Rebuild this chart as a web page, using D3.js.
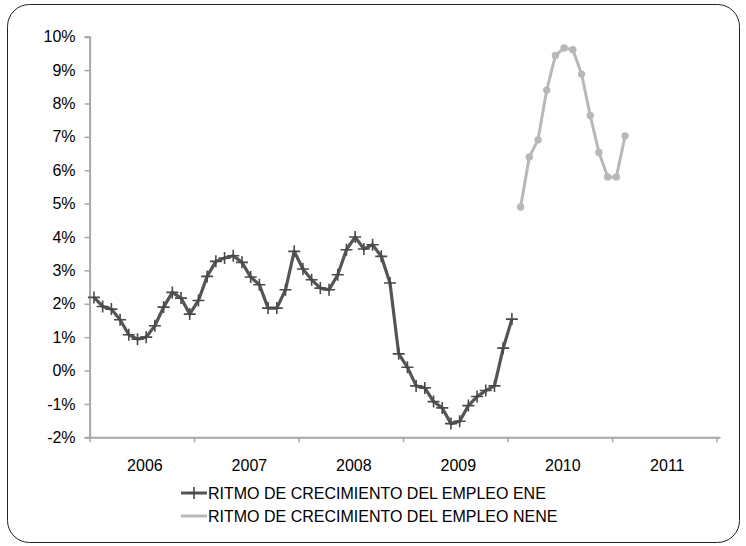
<!DOCTYPE html>
<html>
<head>
<meta charset="utf-8">
<script src="https://cdn.jsdelivr.net/npm/d3@7/dist/d3.min.js"></script>
<style>
  html, body { margin: 0; padding: 0; background: #fff; }
  svg { display: block; }
  text { font-family: "Liberation Sans", Arial, sans-serif; fill: #000; }
</style>
</head>
<body>
<svg id="chart" width="746" height="546"></svg>
<script>
// ---- data ----
const years = ["2006", "2007", "2008", "2009", "2010", "2011"];
const yTicks = [-2, -1, 0, 1, 2, 3, 4, 5, 6, 7, 8, 9, 10];
const seriesNames = ["RITMO DE CRECIMIENTO DEL EMPLEO ENE", "RITMO DE CRECIMIENTO DEL EMPLEO NENE"];
// monthly growth rates (%), ENE: Jan 2006 onwards
const eneStart = 0;
const eneValues = [2.19, 1.92, 1.84, 1.52, 1.07, 0.94, 1.00, 1.34, 1.90, 2.34, 2.17, 1.69,
                   2.10, 2.82, 3.27, 3.37, 3.44, 3.24, 2.80, 2.57, 1.87, 1.87, 2.42, 3.57,
                   3.04, 2.72, 2.47, 2.42, 2.87, 3.62, 4.00, 3.64, 3.77, 3.42, 2.62, 0.50,
                   0.10, -0.46, -0.52, -0.93, -1.12, -1.59, -1.52, -1.05, -0.78, -0.60, -0.46, 0.67,
                   1.54];
// NENE: starts at month index 49
const neneStart = 49;
const neneValues = [4.90, 6.40, 6.91, 8.40, 9.44, 9.66, 9.61, 8.88, 7.64, 6.53, 5.80, 5.80, 7.03];

// ---- layout ----
const svg = d3.select("#chart");
const plotLeft = 89.6, plotRight = 720, plotTop = 36.7, plotBottom = 437.3;

svg.append("rect")
  .attr("x", 7.5).attr("y", 4.5).attr("width", 732).attr("height", 538)
  .attr("rx", 22).attr("ry", 22)
  .attr("fill", "#fff").attr("stroke", "#222").attr("stroke-width", 1);

const x = d3.scaleLinear().domain([-0.5, 71.9]).range([plotLeft, plotRight]);
const y = d3.scaleLinear().domain([-2, 10]).range([plotBottom, plotTop]);

const axisColor = "#a6a6a6";

// y axis
const yAxis = svg.append("g").attr("transform", `translate(${plotLeft},0)`)
  .call(d3.axisLeft(y).tickValues(yTicks).tickFormat(d => d + "%").tickSize(5).tickPadding(9));
yAxis.select(".domain").attr("stroke", axisColor).attr("stroke-width", 2);
yAxis.selectAll(".tick line").attr("stroke", axisColor).attr("stroke-width", 1.5);
yAxis.selectAll(".tick text").attr("font-size", 16).attr("fill", "#000")
  .attr("font-family", "Liberation Sans, Arial, sans-serif");

// x axis (year boundaries)
const yearTicks = d3.range(years.length + 1).map(i => -0.5 + 12 * i);
const xAxis = svg.append("g").attr("transform", `translate(0,${plotBottom})`)
  .call(d3.axisBottom(x).tickValues(yearTicks).tickFormat("").tickSize(5).tickSizeOuter(0));
xAxis.select(".domain").attr("stroke", axisColor).attr("stroke-width", 2);
xAxis.selectAll(".tick line").attr("stroke", axisColor).attr("stroke-width", 1.5);

svg.append("g").selectAll("text").data(years).join("text")
  .attr("x", (d, i) => x(-0.5 + 12 * i + 6.35))
  .attr("y", plotBottom + 34)
  .attr("text-anchor", "middle")
  .attr("font-size", 16)
  .text(d => d);

// series
const eneData = eneValues.map((v, i) => ({ i: eneStart + i, v }));
const neneData = neneValues.map((v, i) => ({ i: neneStart + i, v }));
const line = d3.line().x(d => x(d.i)).y(d => y(d.v));

const darkColor = "#555555";
const lightColor = "#b8b8b8";

svg.append("path").datum(eneData).attr("d", line)
  .attr("fill", "none").attr("stroke", darkColor).attr("stroke-width", 3.2)
  .attr("stroke-linejoin", "round");

function plusPath(cx, cy, s) {
  return `M${cx - s},${cy}H${cx + s}M${cx},${cy - s}V${cy + s}`;
}
svg.append("g").selectAll("path").data(eneData).join("path")
  .attr("d", d => plusPath(x(d.i), y(d.v), 6))
  .attr("stroke", "#4a4a4a").attr("stroke-width", 1.6).attr("fill", "none");

svg.append("path").datum(neneData).attr("d", line)
  .attr("fill", "none").attr("stroke", lightColor).attr("stroke-width", 3)
  .attr("stroke-linejoin", "round");
svg.append("g").selectAll("circle").data(neneData).join("circle")
  .attr("cx", d => x(d.i)).attr("cy", d => y(d.v)).attr("r", 3.7)
  .attr("fill", lightColor);

// legend
const legend = svg.append("g");
const legY = [493, 516];
const legColors = [darkColor, lightColor];
seriesNames.forEach((name, k) => {
  legend.append("line").attr("x1", 181).attr("x2", 207).attr("y1", legY[k]).attr("y2", legY[k])
    .attr("stroke", legColors[k]).attr("stroke-width", 3);
  if (k === 0) {
    legend.append("path").attr("d", plusPath(194, legY[k], 6))
      .attr("stroke", "#4a4a4a").attr("stroke-width", 1.6);
  }
  legend.append("text").attr("x", 208).attr("y", legY[k] + 6)
    .attr("font-size", 16).text(name);
});
</script>
</body>
</html>
